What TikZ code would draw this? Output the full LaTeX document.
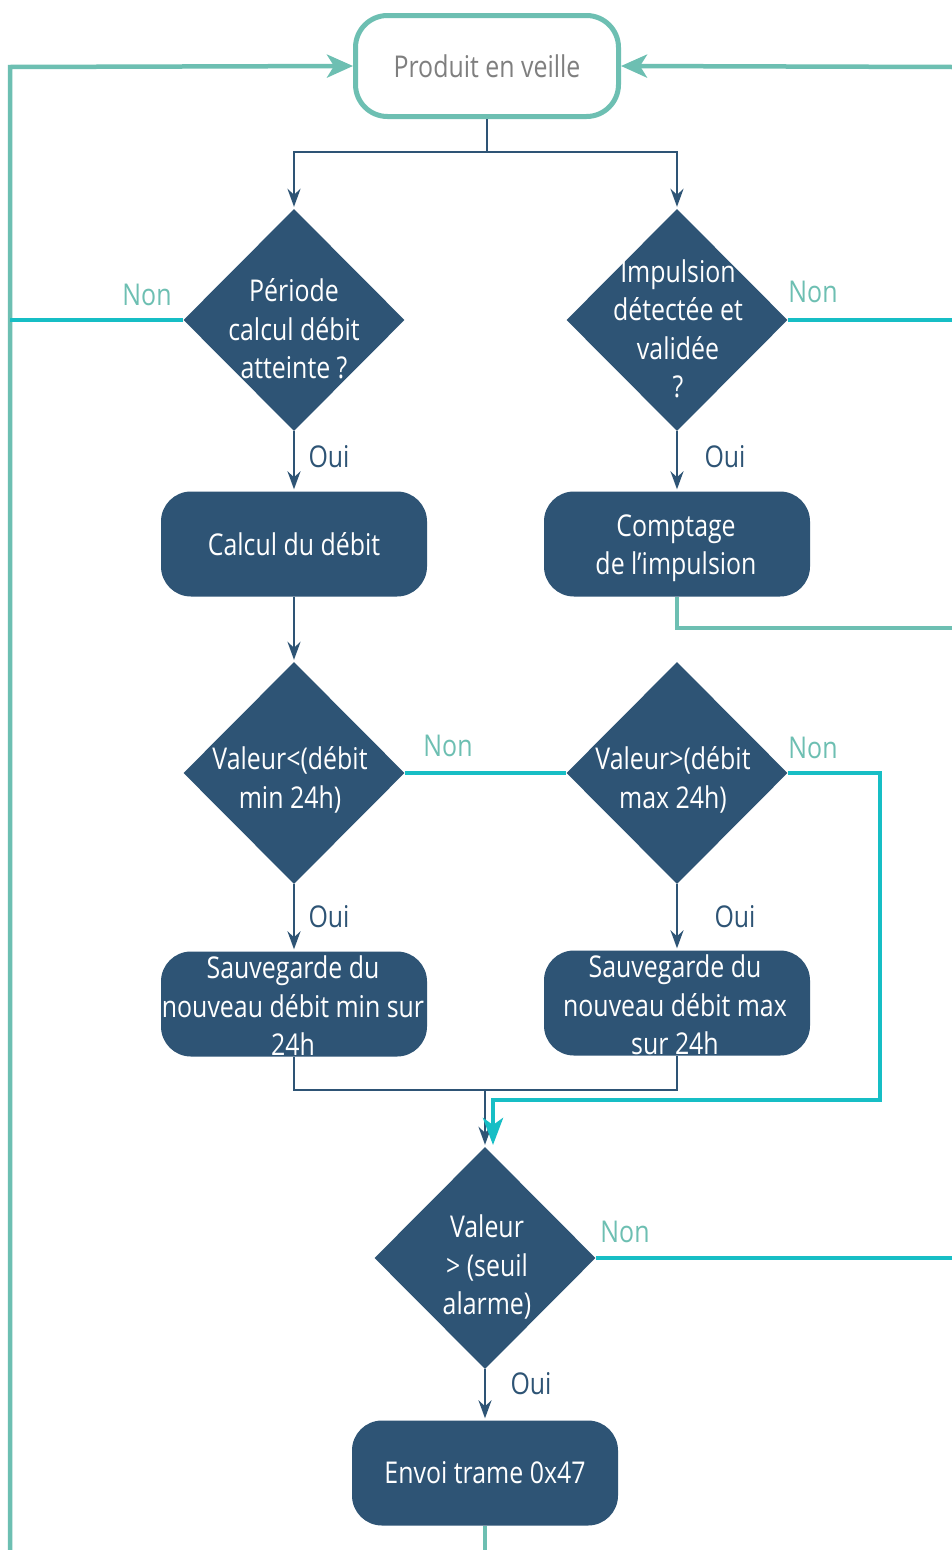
\documentclass[tikz,border=0pt]{standalone}
\usepackage{fontspec}
\setmainfont{Open Sans}[FakeStretch=0.83]
\usetikzlibrary{shapes.geometric,arrows.meta}
\definecolor{dblue}{HTML}{2E5475}
\definecolor{tealA}{HTML}{6DBFB2}
\definecolor{cyanA}{HTML}{17BEC5}
\definecolor{grayT}{HTML}{7F7F7F}
\begin{document}
\begin{tikzpicture}[x=1pt,y=-1pt,
  fs/.style={font=\fontsize{30pt}{38.5pt}\selectfont},
  box/.style={rectangle, rounded corners=30pt, fill=dblue, minimum width=266pt, minimum height=105pt, text=white, align=center, fs, inner sep=0pt},
  dia/.style={diamond, fill=dblue, minimum width=221pt, minimum height=222pt, inner sep=0pt},
  dtext/.style={text=white, align=center, fs, inner sep=0pt},
  dline/.style={draw=dblue, line width=2.5pt},
  darr/.style={dline, -{Stealth[length=18pt,width=13pt,inset=6pt]}, shorten >=2pt},
  tline/.style={draw=tealA, line width=4.5pt},
  tarr/.style={tline, -{Stealth[length=26pt,width=23pt,inset=7pt]}},
  cline/.style={draw=cyanA, line width=4.5pt},
  carr/.style={cline, -{Stealth[length=27pt,width=20pt,inset=7pt]}},
  non/.style={text=tealA, fs},
  oui/.style={text=dblue, fs}]
\useasboundingbox (0,0) rectangle (952,1550);
\fill[white] (0,0) rectangle (952,1550);

% nodes
\node[rectangle, rounded corners=32pt, draw=tealA, line width=5pt, fill=white, minimum width=263pt, minimum height=101pt, text=grayT, fs, inner sep=0pt] (prod) at (487,66) {Produit en veille};

\node[dia] (d1) at (294,320) {};
\node[dtext] (d1t) at (294,329) {Période\\calcul débit\\atteinte ?};
\node[dia] (d2) at (677,320) {};
\node[dtext] (d2t) at (678,329) {Impulsion\\détectée et\\validée\\?};

\node[box] (b1) at (294,544) {Calcul du débit};
\node[box] (b2) at (677,544) {};
\node[dtext] (b2t) at (676,548) {Comptage\\de l’impulsion};

\node[dia] (d3) at (294,773) {};
\node[dtext] (d3t) at (290,780) {Valeur<(débit\\min 24h)};
\node[dia] (d4) at (677,773) {};
\node[dtext] (d4t) at (673,780) {Valeur>(débit\\max 24h)};

\node[box] (b3) at (294,1004) {};
\node[dtext] (b3t) at (293,1006) {Sauvegarde du\\nouveau débit min sur\\24h};
\node[box] (b4) at (677,1003) {};
\node[dtext] (b4t) at (675,1005) {Sauvegarde du\\nouveau débit max\\sur 24h};

\node[dia] (d5) at (485,1258) {};
\node[dtext] (d5t) at (487,1267) {Valeur\\> (seuil\\alarme)};

\node[box] (b5) at (485,1473) {Envoi trame 0x47};

% labels
\node[non] (n1) at (147,295) {Non};
\node[non] (n2) at (813,292) {Non};
\node[non] (n3) at (448,746) {Non};
\node[non] (n4) at (813,748) {Non};
\node[non] (n5) at (625,1232) {Non};
\node[oui] (o1) at (329,457) {Oui};
\node[oui] (o2) at (725,457) {Oui};
\node[oui] (o3) at (329,917) {Oui};
\node[oui] (o4) at (735,917) {Oui};
\node[oui] (o5) at (531,1384) {Oui};

% coordinates
\coordinate (s1) at (487,152);
\coordinate (Lb) at (10,1550);
\coordinate (Lt) at (10,67);
\coordinate (Rt) at (952,67);
\coordinate (R2) at (952,628);
\coordinate (k) at (880,1100);
\coordinate (m) at (493,1100);
\coordinate (m2) at (493,1145);
\coordinate (j) at (485,1090);

% connectors
\draw[dline] (prod.south) -- (s1);
\draw[darr] (s1) -| (d1.north);
\draw[darr] (s1) -| (d2.north);
\draw[darr] (d1.south) -- (b1.north);
\draw[darr] (d2.south) -- (b2.north);
\draw[darr] (b1.south) -- (d3.north);
\draw[darr] (d3.south) -- (b3.north);
\draw[darr] (d4.south) -- (b4.north);
\draw[dline] (b3.south) |- (j) -| (b4.south);
\draw[darr] (j) -- (d5.north);
\draw[darr] (d5.south) -- (b5.north);

\draw[tarr] (Lb) -- (Lt) -- (prod.west);
\draw[tarr] (Rt) -- (prod.east);
\draw[tline] (b2.south) |- (R2);
\draw[tline] (b5.south) -- (b5.south |- Lb);

\draw[cline] (d1.west) -- (d1.west -| Lt);
\draw[cline] (d2.east) -- (d2.east -| Rt);
\draw[cline] (d3.east) -- (d4.west);
\draw[carr] (d4.east) -| (k) -- (m) -- (m2);
\draw[cline] (d5.east) -- (d5.east -| Rt);
\end{tikzpicture}
\end{document}
